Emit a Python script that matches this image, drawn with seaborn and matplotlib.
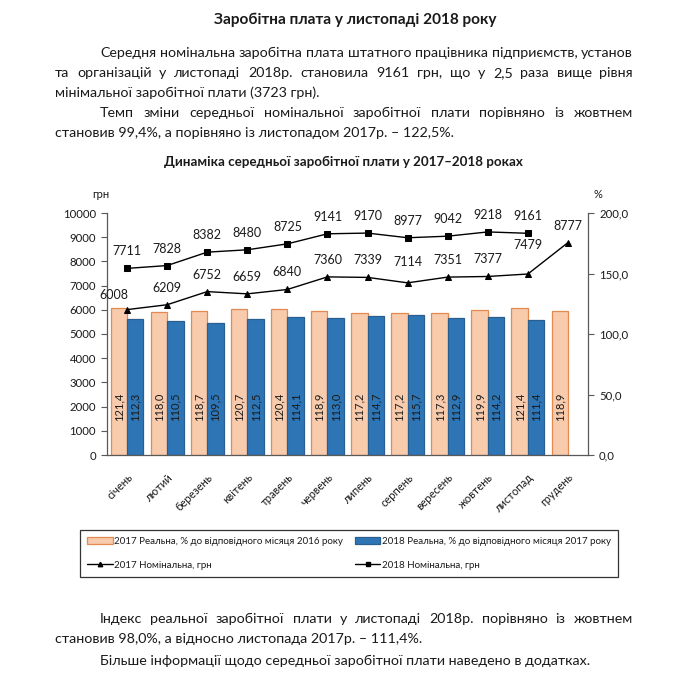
import numpy as np
import pandas as pd
import matplotlib
matplotlib.use('Agg')
import matplotlib.pyplot as plt
from matplotlib.lines import Line2D
from matplotlib.patches import Patch
import seaborn as sns

# ── data ─────────────────────────────────────
months = ['січень', 'лютий', 'березень', 'квітень', 'травень', 'червень',
          'липень', 'серпень', 'вересень', 'жовтень', 'листопад', 'грудень']
real_2017 = [121.4, 118.0, 118.7, 120.7, 120.4, 118.9,
             117.2, 117.2, 117.3, 119.9, 121.4, 118.9]
real_2018 = [112.3, 110.5, 109.5, 112.5, 114.1, 113.0,
             114.7, 115.7, 112.9, 114.2, 111.4]
nom_2017 = [6008, 6209, 6752, 6659, 6840, 7360,
            7339, 7114, 7351, 7377, 7479, 8777]
nom_2018 = [7711, 7828, 8382, 8480, 8725, 9141,
            9170, 8977, 9042, 9218, 9161]

lab_r17 = '2017 Реальна, % до відповідного місяця 2016 року'
lab_r18 = '2018 Реальна, % до відповідного місяця 2017 року'
lab_n17 = '2017 Номінальна, грн'
lab_n18 = '2018 Номінальна, грн'

bars = pd.DataFrame({
    'month': months + months[:len(real_2018)],
    'pct': real_2017 + real_2018,
    'series': [lab_r17] * len(real_2017) + [lab_r18] * len(real_2018)})
lines = pd.DataFrame({
    'month': months + months[:len(nom_2018)],
    'uah': nom_2017 + nom_2018,
    'series': [lab_n17] * len(nom_2017) + [lab_n18] * len(nom_2018)})

# ── style ────────────────────────────────────
sns.set_theme(style='white')
plt.rcParams['font.family'] = ['Lato', 'DejaVu Sans']
TXT = '#1a1a1a'
PEACH, PEACH_EDGE = '#F8CBAD', '#E4894F'
BLUE, BLUE_EDGE = '#2E75B6', '#2A5E8F'
W, H = 695, 676

fig = plt.figure(figsize=(W / 100, H / 100), dpi=100)
fig.patch.set_facecolor('white')
ax = fig.add_axes([107 / W, 1 - 455 / H, (588 - 107) / W, (455 - 213) / H])
ax2 = ax.twinx()

# ── bars (right axis, %) ─────────────────────
sns.barplot(data=bars, x='month', y='pct', hue='series', order=months,
            hue_order=[lab_r17, lab_r18], palette=[PEACH, BLUE],
            saturation=1, width=0.82, legend=False, ax=ax2)
for cont, ec in zip(ax2.containers, [PEACH_EDGE, BLUE_EDGE]):
    for p in cont:
        p.set_edgecolor(ec)
        p.set_linewidth(0.9)
        h = p.get_height()
        if np.isnan(h) or h == 0:
            continue
        ax2.text(p.get_x() + p.get_width() / 2, 40, f'{h:.1f}'.replace('.', ','),
                 rotation=90, ha='center', va='center', fontsize=8, color=TXT)

# ── lines (left axis, грн) ───────────────────
sns.pointplot(data=lines, x='month', y='uah', hue='series', order=months,
              hue_order=[lab_n17, lab_n18], palette=['black', 'black'],
              markers=['^', 's'], linestyles=['-', '-'], errorbar=None,
              legend=False, markersize=4.2, linewidth=1.0, ax=ax)

# small manual nudges of the value labels (pixels)
nudge = {(0, 0): (-13, -2), (0, 10): (0, 12), (0, 7): (0, 4)}
for s, vals in enumerate([nom_2017, nom_2018]):
    for i, v in enumerate(vals):
        dx, dy = nudge.get((s, i), (0, 0))
        ax.annotate(str(v), (i, v), xytext=(dx * 0.72, (17 + dy) * 0.72),
                    textcoords='offset points', ha='center', va='center',
                    fontsize=9, color=TXT)

# ── axes ─────────────────────────────────────
ax.set_zorder(ax2.get_zorder() + 1)
ax.patch.set_visible(False)
ax.set_xlim(-0.5, 11.5)
ax.set_ylim(0, 10000)
ax.set_yticks(range(0, 10001, 1000))
ax2.set_ylim(0, 200)
ax2.set_yticks(range(0, 201, 50))
ax2.set_yticklabels([f'{t:.1f}'.replace('.', ',') for t in range(0, 201, 50)])
ax.set_xticks(range(12))
ax.set_xticklabels(months, rotation=45, ha='right', rotation_mode='anchor',
                   fontsize=8, color=TXT)
ax.set_xticks(np.arange(-0.5, 12, 1), minor=True)
ax.tick_params(axis='x', which='major', length=0, pad=12)
ax.tick_params(axis='x', which='minor', length=4, width=0.8, color='#595959')
ax.tick_params(axis='y', length=4, width=0.8, color='#595959', labelsize=8.2,
               labelcolor=TXT, pad=4)
ax2.tick_params(axis='y', length=4, width=0.8, color='#595959', labelsize=8.2,
                labelcolor=TXT, pad=4)
ax.set_xlabel('')
ax.set_ylabel('')
ax2.set_xlabel('')
ax2.set_ylabel('')
for sp in ['top', 'right']:
    ax.spines[sp].set_visible(False)
for sp in ['top', 'left', 'bottom']:
    ax2.spines[sp].set_visible(False)
for sp in [ax.spines['left'], ax.spines['bottom'], ax2.spines['right']]:
    sp.set_color('#595959')
    sp.set_linewidth(0.9)

fig.text(101 / W, 1 - 195 / H, 'грн', ha='center', va='center', fontsize=8, color=TXT)
fig.text(598 / W, 1 - 195 / H, '%', ha='center', va='center', fontsize=8, color=TXT)

# ── legend ───────────────────────────────────
handles = [Patch(fc=PEACH, ec=PEACH_EDGE, lw=0.9),
           Line2D([], [], color='black', marker='^', ms=3.2, lw=1),
           Patch(fc=BLUE, ec=BLUE_EDGE, lw=0.9),
           Line2D([], [], color='black', marker='s', ms=3.2, lw=1)]
leg = fig.legend(handles, [lab_r17, lab_n17, lab_r18, lab_n18], ncol=2,
                 loc='upper left', mode='expand',
                 bbox_to_anchor=(80 / W, 1 - 577 / H, 538 / W, 47 / H),
                 fontsize=7, frameon=True, fancybox=False, edgecolor='black',
                 handlelength=2.6, handleheight=0.7, handletextpad=0.15,
                 labelspacing=1.5, borderpad=0.75, borderaxespad=0)
leg.get_frame().set_linewidth(0.9)
for t in leg.get_texts():
    t.set_color(TXT)

# ── document text ────────────────────────────
renderer = fig.canvas.get_renderer()


def put_line(text, x0, y, x1=None, **kw):
    yf = 1 - y / H
    if x1 is None:
        fig.text(x0 / W, yf, text, va='center_baseline', color=TXT, **kw)
        return
    words = text.split(' ')
    objs = [fig.text(0, yf, w, va='center_baseline', color=TXT, **kw) for w in words]
    widths = [o.get_window_extent(renderer).width for o in objs]
    gap = (x1 - x0 - sum(widths)) / (len(words) - 1)
    x = x0
    for o, w in zip(objs, widths):
        o.set_x(x / W)
        x += w + gap


fig.text(355 / W, 1 - 18 / H, 'Заробітна плата у листопаді 2018 року',
         ha='center', va='center_baseline', fontsize=11.1, weight='bold', color=TXT)
BS = 10.3
put_line('Середня номінальна заробітна плата штатного працівника підприємств, установ',
         100, 52, 633, fontsize=BS)
put_line('та організацій у листопаді 2018р. становила 9161 грн, що у 2,5 раза вище рівня',
         55, 72, 633, fontsize=BS)
put_line('мінімальної заробітної плати (3723 грн).', 55, 92, fontsize=BS)
put_line('Темп зміни середньої номінальної заробітної плати порівняно із жовтнем',
         100, 112, 633, fontsize=BS)
put_line('становив 99,4%, а порівняно із листопадом 2017р. – 122,5%.', 55, 132, fontsize=BS)
fig.text(343 / W, 1 - 161 / H, 'Динаміка середньої заробітної плати у 2017–2018 роках',
         ha='center', va='center_baseline', fontsize=9.6, weight='bold', color=TXT)
put_line('Індекс реальної заробітної плати у листопаді 2018р. порівняно із жовтнем',
         100, 618, 633, fontsize=BS)
put_line('становив 98,0%, а відносно листопада 2017р. – 111,4%.', 55, 638, fontsize=BS)
put_line('Більше інформації щодо середньої заробітної плати наведено в додатках.',
         100, 660, fontsize=BS)

fig.savefig('out.png', dpi=100, facecolor='white')
